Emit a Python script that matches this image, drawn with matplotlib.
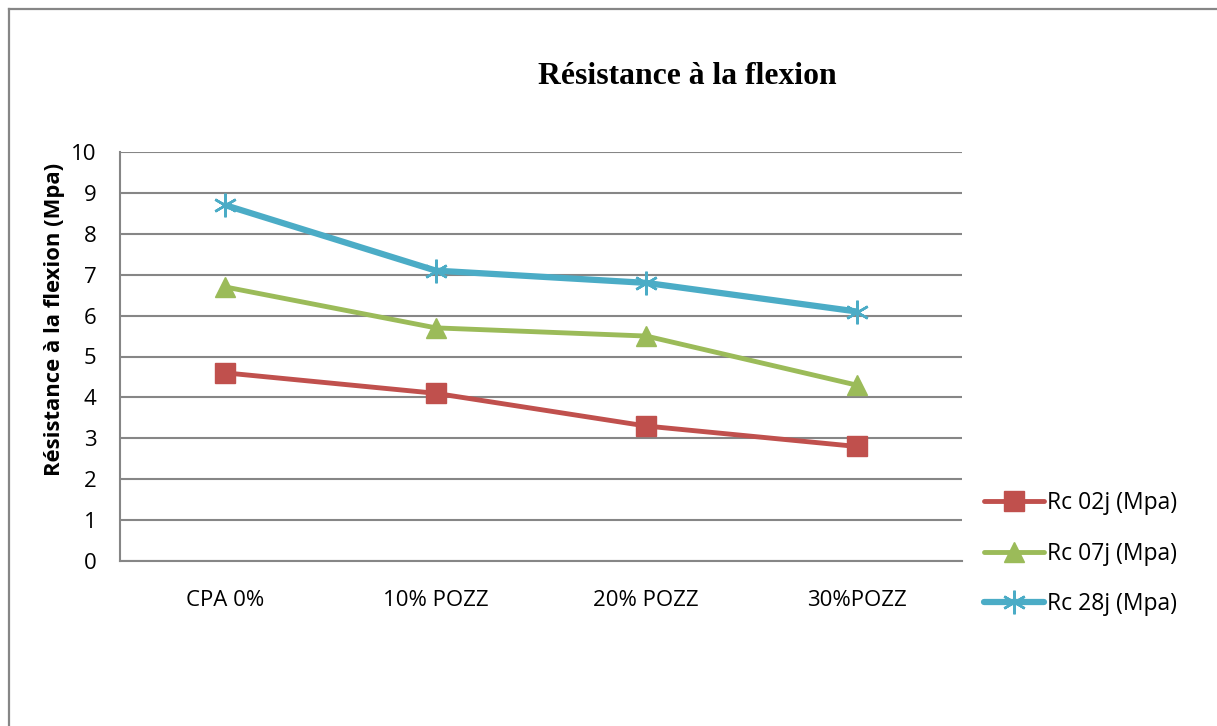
import matplotlib
matplotlib.use("Agg")
import matplotlib.pyplot as plt
from matplotlib.lines import Line2D

#------------------------------------------------------------------------------
#--- (0) Data
#------------------------------------------------------------------------------
categories = ["CPA 0%", "10% POZZ", "20% POZZ", "30%POZZ"]
rc_02j = [4.6, 4.1, 3.3, 2.8]
rc_07j = [6.7, 5.7, 5.5, 4.3]
rc_28j = [8.7, 7.1, 6.8, 6.1]
series_labels = ["Rc 02j (Mpa)", "Rc 07j (Mpa)", "Rc 28j (Mpa)"]
y_ticks = list(range(0, 11))

COLOURS = ["#C0504D", "#9BBB59", "#4BACC6"]
MARKERS = ["s", "^", (6, 2, 0)]
GRID = "#868686"

W, H = 1217, 726
fig = plt.figure(figsize=(W / 100, H / 100), dpi=100)
ax = fig.add_axes([120 / W, 1 - 561 / H, 842 / W, 409 / H])

# outer chart border (left and top visible only)
fig.add_artist(Line2D([8.5 / W, 8.5 / W], [0, 1 - 8.5 / H], transform=fig.transFigure,
                      color=GRID, lw=1.6))
fig.add_artist(Line2D([8.5 / W, 1], [1 - 8.5 / H, 1 - 8.5 / H], transform=fig.transFigure,
                      color=GRID, lw=1.6))

#------------------------------------------------------------------------------
#--- (1) Lines
#------------------------------------------------------------------------------
x = range(len(categories))
for vals, col, mk, lab in zip([rc_02j, rc_07j, rc_28j], COLOURS, MARKERS, series_labels):
    if mk == (6, 2, 0):
        ax.plot(x, vals, color=col, lw=4.5, marker=(6, 2, 0), markersize=17,
                markeredgewidth=1.8, markeredgecolor=col, label=lab, solid_capstyle="round", zorder=3)
    else:
        ax.plot(x, vals, color=col, lw=3.5, marker=mk, markersize=14 if mk == "s" else 15,
                markerfacecolor=col, markeredgecolor=col, label=lab, solid_capstyle="round", zorder=3)

ax.set_xlim(-0.5, 3.5)
ax.set_ylim(0, 10)
ax.set_yticks(y_ticks)
ax.set_xticks(list(x))
ax.set_xticklabels(categories)
ax.grid(axis="y", color=GRID, lw=1.5)
ax.set_axisbelow(True)
for s in ["top", "right"]:
    ax.spines[s].set_visible(False)
for s in ["left", "bottom"]:
    ax.spines[s].set_color(GRID)
    ax.spines[s].set_linewidth(1.5)
ax.tick_params(length=0, labelsize=16, pad=17)
ax.tick_params(axis="x", pad=21)
for t in ax.get_xticklabels() + ax.get_yticklabels():
    t.set_fontfamily("Open Sans")

ax.set_ylabel("Résistance à la flexion (Mpa)", fontsize=15.8, fontweight="bold",
              fontfamily="Open Sans")
ax.yaxis.set_label_coords(-55 / 842, (561 - 319) / 409)
fig.text(687 / W, 1 - 76 / H, "Résistance à la flexion", ha="center", va="center",
         fontsize=22.8, fontweight="bold", fontfamily="Liberation Serif")

leg = fig.legend(loc="upper left", bbox_to_anchor=(975 / W, 1 - 482 / H), frameon=False,
                 prop={"family": "Open Sans", "size": 16.5}, handlelength=2.6,
                 labelspacing=1.15, handletextpad=0.15, borderaxespad=0)

fig.savefig("out.png", dpi=100)
